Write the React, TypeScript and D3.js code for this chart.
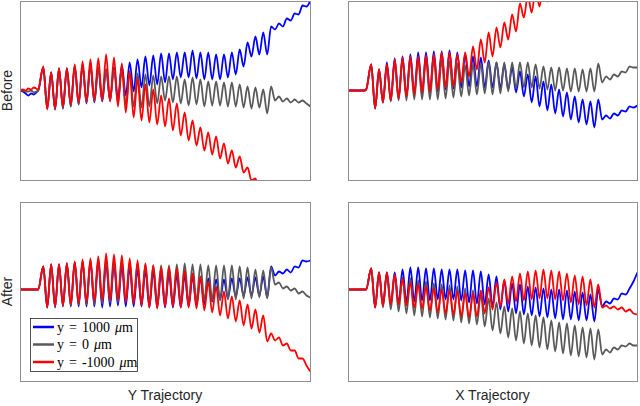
import React from 'react';
import * as d3 from 'd3';

// time grid: a few flat samples before the kick, then one entry per half-period extremum
const PRE_T = [-5.93, -5.2, -4.5, -3.8, -3.1, -2.4, -1.8, -1.3];
const EXT_T = d3.range(0, 69);
const TIMES = [...PRE_T, ...EXT_T];
const T_DOMAIN: [number, number] = [-5.93, 67.9];
const V_DOMAIN: [number, number] = [-89.5, 89.5];

const SERIES_VALUES = ['1000', '0', '-1000'];
const SERIES_COLORS = ['#0000ff', '#595959', '#ff0000'];
const ROW_LABELS = ['Before', 'After'];
const COL_LABELS = ['Y Trajectory', 'X Trajectory'];

// Before / Y trajectory
const TL_BLUE = [0, -1, -3, -5, -3, -4, -2, 0,
  23, -18, 18, -19, 22, -18, 22, -16, 24, -14, 25, -13, 25, -12, 23, -11, 21, -10, 23, -8, 25, -5, 28, -1, 31, 3, 34, 5, 35, 6,
  37, 8, 37, 11, 38, 13, 38, 13, 40, 12, 38, 11, 38, 11, 36, 11, 36, 13, 38, 16, 41, 24, 48, 34, 54, 36, 58, 36, 64, 61, 67, 64,
  72, 70, 77, 76, 85, 84, 90];
const TL_GRAY = [0, 0, -1, -1, 0, -2, -1, 0,
  23, -18, 18, -19, 22, -18, 22, -16, 24, -14, 25, -12, 25, -11, 23, -10, 21, -10, 21, -12, 20, -14, 19, -16, 17, -17, 16, -16,
  15, -13, 14, -10, 14, -12, 14, -13, 11, -15, 13, -14, 11, -16, 9, -15, 9, -15, 8, -16, 8, -16, 6, -17, 4, -18, 3, -17, 1, -23,
  4, -10, -6, -11, -8, -12, -9, -12, -10, -13, -16];
const TL_RED = [0, 1, 0, 2, 1, 3, 2, 1,
  24, -19, 18, -18, 22, -16, 22, -14, 26, -12, 29, -11, 31, -10, 32, -10, 36, -11, 33, -16, 27, -22, 19, -27, 12, -30, 6, -32,
  1, -34, -5, -36, -8, -40, -13, -45, -22, -50, -30, -55, -37, -60, -42, -64, -46, -68, -53, -73, -60, -77, -66, -82, -77, -90,
  -88, -100, -98];

// Before / X trajectory
const TR_BLUE = [0, 0, 0, 0, 0, 0, 0, 1,
  26, -18, 21, -12, 28, -10, 32, -8, 34, -6, 36, -4, 38, -3, 38, -2, 39, -1, 39, 1, 40, 2, 38, 3, 36, 4, 34, 4, 33, 3, 30, 3,
  28, 2, 26, 1, 23, -2, 19, -6, 16, -12, 14, -16, 9, -20, 6, -23, 1, -26, -2, -29, -6, -32, -9, -34, -11, -37, -9, -29, -25, -28,
  -23, -25, -20, -21, -16, -17, -15];
const TR_GRAY = [0, 0, 0, 0, 0, 0, 0, 1,
  26, -18, 21, -12, 25, -11, 28, -10, 30, -10, 31, -9, 31, -9, 31, -9, 31, -9, 30, -8, 29, -7, 27, -6, 25, -5, 26, -4, 27, -3,
  28, -4, 28, -3, 28, -1, 28, 2, 28, 3, 28, 3, 26, 2, 24, 1, 23, 0, 23, 0, 22, -1, 22, -1, 21, -1, 22, -1, 27, 8, 14, 11,
  16, 14, 19, 18, 24, 23, 23];
const TR_RED = [0, 0, 0, 0, 0, 0, 0, 1,
  26, -18, 21, -12, 26, -10, 31, -8, 33, -6, 34, -4, 34, -2, 35, -1, 36, 1, 38, 3, 38, 4, 36, 8, 38, 14, 44, 21, 51, 28,
  58, 34, 63, 43, 68, 51, 76, 59, 87, 73, 95, 78, 101, 84, 107, 89, 111];

// After / Y trajectory
const BL_BLUE = [2, 2, 2, 2, 2, 2, 2, 2,
  25, -16, 27, -16, 27, -15, 28, -15, 29, -15, 30, -15, 30, -15, 30, -16, 28, -15, 27, -14, 25, -15, 24, -15, 22, -15, 21, -16,
  20, -16, 19, -16, 18, -16, 17, -16, 16, -15, 15, -14, 14, -13, 13, -10, 12, -8, 12, -7, 13, -5, 13, -4, 14, -4, 14, -4, 15, -6,
  25, 16, 20, 18, 22, 19, 25, 24, 31, 30, 31];
const BL_GRAY = [2, 2, 2, 2, 2, 2, 2, 2,
  25, -16, 27, -15, 27, -14, 28, -14, 29, -13, 30, -13, 31, -13, 32, -12, 32, -11, 31, -11, 30, -10, 29, -10, 28, -11, 27, -11,
  26, -12, 26, -12, 26, -11, 27, -11, 28, -11, 27, -10, 27, -9, 26, -9, 26, -9, 26, -8, 26, -8, 25, -7, 24, -7, 22, -6, 21, -7,
  24, 7, 9, 3, 5, 1, 3, -2, 0, -4, -6];
const BL_RED = [2, 2, 2, 2, 2, 2, 2, 2,
  25, -16, 27, -15, 27, -14, 28, -13, 30, -12, 32, -11, 33, -10, 35, -9, 38, -9, 37, -9, 36, -11, 33, -12, 31, -14, 28, -16,
  26, -17, 24, -15, 24, -15, 23, -16, 21, -16, 18, -17, 15, -19, 10, -21, 5, -24, 0, -27, -5, -30, -9, -34, -13, -37, -18, -41,
  -24, -50, -42, -49, -46, -54, -52, -59, -59, -67, -67, -74, -80];

// After / X trajectory
const BR_BLUE = [2, 2, 2, 2, 2, 2, 2, 2,
  23, -16, 19, -14, 19, -13, 19, -12, 22, -11, 24, -10, 24, -9, 23, -9, 23, -8, 22, -8, 22, -8, 22, -9, 21, -11, 21, -12,
  20, -13, 17, -15, 15, -18, 11, -20, 8, -22, 7, -23, 5, -24, 4, -25, 3, -26, 2, -27, 2, -28, 1, -28, 0, -29, -1, -29, -3, -30,
  2, -15, -10, -12, -7, -8, -2, -3, 3, 10, 19];
const BR_GRAY = [2, 2, 2, 2, 2, 2, 2, 2,
  23, -16, 19, -16, 18, -18, 16, -20, 14, -22, 13, -24, 11, -25, 10, -26, 8, -27, 7, -28, 6, -29, 5, -31, 3, -32, 1, -33,
  -3, -35, -7, -39, -11, -42, -15, -46, -17, -49, -20, -52, -22, -54, -24, -56, -26, -58, -29, -60, -31, -62, -32, -64, -34, -65,
  -36, -66, -37, -68, -38, -63, -58, -61, -56, -58, -54, -55, -52, -54, -54];
const BR_RED = [2, 2, 2, 2, 2, 2, 2, 2,
  23, -16, 19, -14, 19, -13, 17, -13, 13, -14, 9, -16, 7, -17, 5, -19, 3, -21, 2, -22, 1, -23, 0, -25, -2, -26, -2, -25,
  1, -22, 4, -18, 9, -15, 12, -12, 15, -10, 18, -9, 20, -8, 21, -7, 22, -7, 21, -8, 20, -9, 18, -11, 16, -13, 15, -14, 12, -16,
  7, -16, -14, -17, -15, -18, -16, -20, -18, -22, -23];

const PANEL_SERIES = [
  [[TL_BLUE, TL_GRAY, TL_RED], [TR_BLUE, TR_GRAY, TR_RED]],
  [[BL_BLUE, BL_GRAY, BL_RED], [BR_BLUE, BR_GRAY, BR_RED]],
];

// layout
const W = 640;
const H = 406;
const COL_X = [20, 348];
const COL_W = [290, 289];
const ROW_Y = [1, 202];
const ROW_H = 179;
const FONT = '"Liberation Sans", Arial, Helvetica, sans-serif';
const SERIF = '"Liberation Serif", "Times New Roman", serif';

export default function App() {
  const panels: React.ReactNode[] = [];
  for (let r = 0; r < 2; r++) {
    for (let c = 0; c < 2; c++) {
      const x0 = COL_X[c];
      const y0 = ROW_Y[r];
      const xs = d3.scaleLinear().domain(T_DOMAIN).range([x0, x0 + COL_W[c]]);
      const ys = d3.scaleLinear().domain(V_DOMAIN).range([y0 + ROW_H, y0]);
      const line = d3
        .line<[number, number]>()
        .x((d) => xs(d[0]))
        .y((d) => ys(d[1]))
        .curve(d3.curveMonotoneX);
      const id = `clip-${r}-${c}`;
      panels.push(
        <g key={id}>
          <defs>
            <clipPath id={id}>
              <rect x={x0} y={y0} width={COL_W[c]} height={ROW_H} />
            </clipPath>
          </defs>
          <g clipPath={`url(#${id})`}>
            {PANEL_SERIES[r][c].map((vals, si) => {
              const pts = vals.map((v, i) => [TIMES[i], v] as [number, number]);
              return (
                <path
                  key={si}
                  d={line(pts) || ''}
                  fill="none"
                  stroke={SERIES_COLORS[si]}
                  strokeWidth={1.8}
                  strokeLinejoin="round"
                />
              );
            })}
          </g>
          <rect
            x={x0 + 0.5}
            y={y0 + 0.5}
            width={COL_W[c]}
            height={ROW_H}
            fill="none"
            stroke="#8e8e8e"
            strokeWidth={1}
          />
        </g>
      );
    }
  }

  const legendX = 30;
  const legendY = 318;
  const rowGap = 17.5;

  return (
    <svg
      width={W}
      height={H}
      viewBox={`0 0 ${W} ${H}`}
      style={{ position: 'absolute', left: 0, top: 0, background: '#fff' }}
      xmlns="http://www.w3.org/2000/svg"
    >
      <rect x={0} y={0} width={W} height={H} fill="#fff" />
      {panels}
      {ROW_LABELS.map((lab, r) => (
        <text
          key={lab}
          transform={`translate(12, ${ROW_Y[r] + ROW_H / 2}) rotate(-90)`}
          textAnchor="middle"
          fontFamily={FONT}
          fontSize={14}
          fill="#262626"
        >
          {lab}
        </text>
      ))}
      {COL_LABELS.map((lab, c) => (
        <text
          key={lab}
          x={COL_X[c] + COL_W[c] / 2}
          y={400}
          textAnchor="middle"
          fontFamily={FONT}
          fontSize={14}
          fill="#262626"
        >
          {lab}
        </text>
      ))}
      <g>
        <rect x={legendX + 0.5} y={legendY + 0.5} width={107} height={53} fill="#fff" stroke="#262626" strokeWidth={0.8} />
        {SERIES_VALUES.map((val, i) => {
          const yy = legendY + 9 + i * rowGap;
          return (
            <g key={val}>
              <line x1={legendX + 3} x2={legendX + 24} y1={yy} y2={yy} stroke={SERIES_COLORS[i]} strokeWidth={2.5} />
              <text x={legendX + 27} y={yy + 4.5} fontFamily={SERIF} fontSize={14} fill="#000" wordSpacing={1.5}>
                {`y = ${val} `}
                <tspan fontStyle="italic">μ</tspan>
                {'m'}
              </text>
            </g>
          );
        })}
      </g>
    </svg>
  );
}
